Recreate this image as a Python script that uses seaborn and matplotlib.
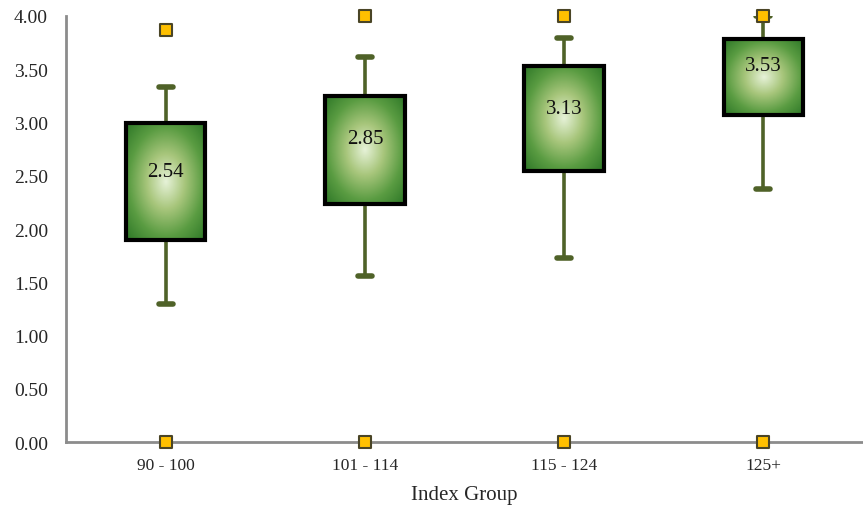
import numpy as np
import pandas as pd
import matplotlib
matplotlib.use("Agg")
import matplotlib.pyplot as plt
from matplotlib.colors import LinearSegmentedColormap
import seaborn as sns

# Values
groups = ["90 - 100", "101 - 114", "115 - 124", "125+"]
whisker_low = [1.30, 1.56, 1.73, 2.38]
q1 = [1.90, 2.23, 2.54, 3.07]
q3 = [2.99, 3.25, 3.53, 3.78]
whisker_high = [3.33, 3.61, 3.79, 4.00]
means = [2.54, 2.85, 3.13, 3.53]
max_vals = [3.87, 4.00, 4.00, 4.00]
min_vals = [0.00, 0.00, 0.00, 0.00]

sns.set_style("white")
plt.rcParams["font.family"] = ["Liberation Serif", "DejaVu Serif"]

fig = plt.figure(figsize=(8.63, 5.10), dpi=100)
ax = fig.add_axes([0.0765, 0.131, 0.9235, 0.836])

stats = []
for i, g in enumerate(groups):
    stats.append({
        "label": g, "whislo": whisker_low[i], "q1": q1[i], "med": means[i],
        "q3": q3[i], "whishi": whisker_high[i], "fliers": [],
    })

pos = np.arange(len(groups))
olive = "#4f6228"
res = ax.bxp(stats, positions=pos, widths=0.4, patch_artist=True,
             showfliers=False,
             boxprops=dict(facecolor="none", edgecolor="black", linewidth=3, zorder=4),
             whiskerprops=dict(color=olive, linewidth=2.6, zorder=2),
             capprops=dict(color=olive, linewidth=4, solid_capstyle="round", zorder=2),
             medianprops=dict(linewidth=0), capwidths=0.07)

# radial gradient inside each box
cmap = LinearSegmentedColormap.from_list("grn", ["#e6f2d8", "#a8c67c", "#5a9c42", "#2c7626"])
for i, box in enumerate(res["boxes"]):
    x0, x1 = pos[i] - 0.2, pos[i] + 0.2
    y0, y1 = q1[i], q3[i]
    xx, yy = np.meshgrid(np.linspace(-1, 1, 120), np.linspace(-1, 1, 120))
    r = np.sqrt(xx ** 2 + yy ** 2) / np.sqrt(2)
    im = ax.imshow(r, extent=[x0, x1, y0, y1], origin="lower", cmap=cmap,
                   vmin=0, vmax=1, aspect="auto", zorder=3, interpolation="bilinear")
    im.set_clip_path(box)
    ax.text(pos[i], means[i], f"{means[i]:.2f}", ha="center", va="center",
            fontsize=15, color="#111111", zorder=5)

# min / max markers
pts = pd.DataFrame({"x": list(pos) * 2, "y": max_vals + min_vals})
sns.scatterplot(data=pts, x="x", y="y", marker="s", s=70, color="#ffc000",
                edgecolor="#4a4526", linewidth=1.5, zorder=6, ax=ax, clip_on=False)

ax.set_xlim(-0.5, 3.5)
ax.set_ylim(0, 4.0)
yt = np.arange(0, 4.01, 0.5)
ax.set_yticks(yt)
ax.set_yticklabels([f"{v:.2f}" for v in yt], fontsize=14)
ax.set_xticks(pos)
ax.set_xticklabels(groups, fontsize=12.5)
ax.set_xlabel("Index Group", fontsize=15, labelpad=8)
ax.set_ylabel("")
ax.tick_params(axis="y", length=0, pad=13)
ax.tick_params(axis="x", length=0, pad=11)
for s in ["top", "right"]:
    ax.spines[s].set_visible(False)
for s in ["left", "bottom"]:
    ax.spines[s].set_color("#8c8c8c")
    ax.spines[s].set_linewidth(2)

fig.savefig("out.png", dpi=100)
